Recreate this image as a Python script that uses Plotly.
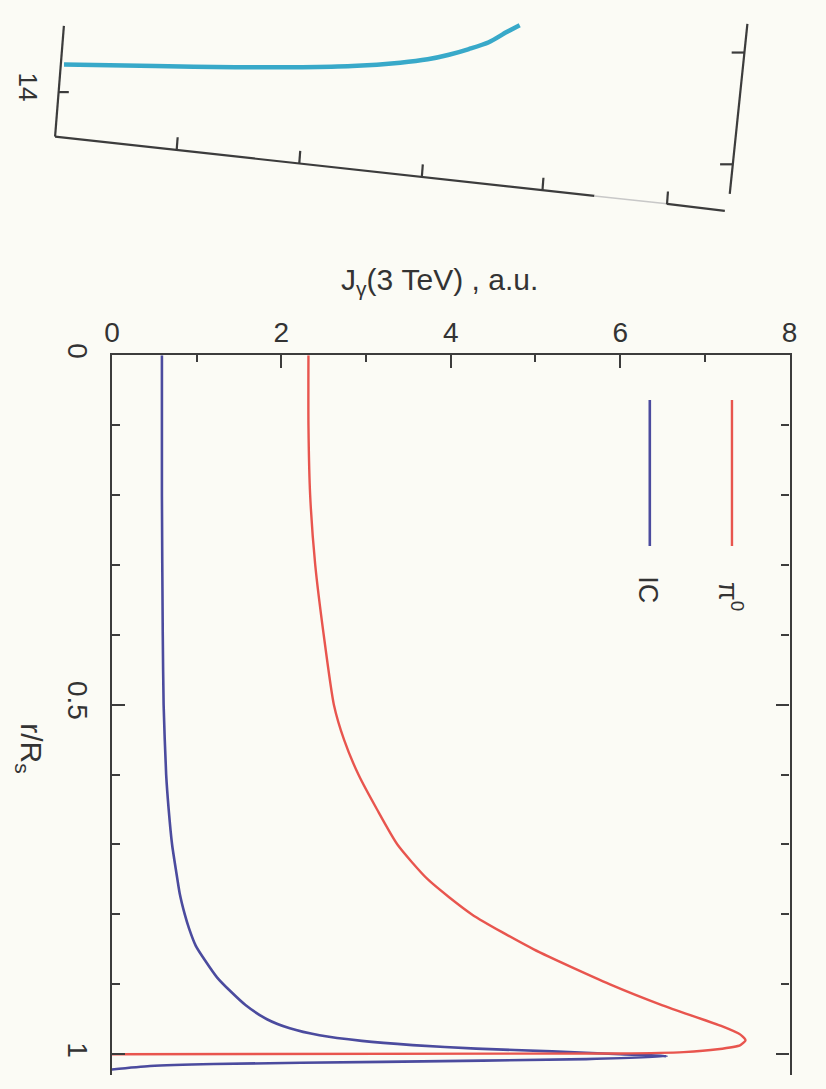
import plotly.graph_objects as go

W, H = 826, 1089

# ---- data ----
r_ic = [0.0, 0.2, 0.4, 0.5, 0.6, 0.65, 0.7, 0.74, 0.77, 0.8, 0.82, 0.845, 0.866, 0.89,
        0.91, 0.93, 0.95, 0.963, 0.973, 0.981, 0.987, 0.992, 0.996, 1.0, 1.003, 1.007,
        1.011, 1.014, 1.017, 1.022]
J_ic = [0.59, 0.59, 0.60, 0.61, 0.64, 0.67, 0.71, 0.76, 0.80, 0.86, 0.91, 0.99, 1.10, 1.24,
        1.40, 1.58, 1.83, 2.10, 2.45, 2.95, 3.55, 4.3, 5.2, 6.0, 6.55, 5.6,
        3.2, 1.2, 0.45, 0.0]

r_pi = [0.0, 0.1, 0.2, 0.3, 0.4, 0.5, 0.55, 0.6, 0.65, 0.7, 0.75, 0.8, 0.85, 0.9,
        0.93, 0.96, 0.972, 0.98, 0.987, 0.993, 0.997, 0.999, 1.0]
J_pi = [2.32, 2.32, 2.34, 2.40, 2.50, 2.62, 2.74, 2.91, 3.13, 3.37, 3.73, 4.25, 4.98,
        5.88, 6.50, 7.20, 7.42, 7.48, 7.42, 7.15, 6.75, 6.0, 0.0]

# fragment of the upper (cropped) panel
frag_x = [0.0, 0.133, 0.25, 0.347, 0.42, 0.49, 0.53, 0.561, 0.59, 0.619, 0.645, 0.664]
frag_y = [14.235, 14.22, 14.21, 14.21, 14.22, 14.25, 14.28, 14.32, 14.37, 14.43, 14.52, 14.58]

x_ticks = [0, 2, 4, 6, 8]
y_tickvals = [0, 0.5, 1]
y_ticktext = ["0", "0.5", "1"]
colors = ["#4b4b9e", "#e8554e"]

BG = "#fbfbf5"
AX = "#3c3c3c"
FONT = "Liberation Sans, Arial, sans-serif"


def px(x):
    return x / W


def py(y):
    return 1 - y / H


fig = go.Figure()
fig.add_trace(go.Scatter(x=J_ic, y=r_ic, mode="lines",
                         line=dict(color=colors[0], width=2.6, shape="spline", smoothing=0.6),
                         name="IC", showlegend=False))
fig.add_trace(go.Scatter(x=J_pi, y=r_pi, mode="lines",
                         line=dict(color=colors[1], width=2.4, shape="spline", smoothing=0.6),
                         name="pi0", showlegend=False))
fig.add_trace(go.Scatter(x=frag_x, y=frag_y, mode="lines", xaxis="x2", yaxis="y2",
                         line=dict(color="#38a9c9", width=4.5, shape="spline", smoothing=0.8),
                         showlegend=False))

fig.update_layout(
    width=W, height=H, margin=dict(l=0, r=0, t=0, b=0),
    paper_bgcolor=BG, plot_bgcolor=BG,
    font=dict(family=FONT, color="#333", size=28),
    xaxis=dict(domain=[px(106), px(797)], range=[0, 8], side="top",
               tickvals=x_ticks, ticks="inside", ticklen=13, tickwidth=2, tickcolor=AX,
               minor=dict(dtick=1, tick0=0, ticks="inside", ticklen=7, tickwidth=2, tickcolor=AX),
               showline=True, linecolor=AX, linewidth=2.2, showgrid=False, zeroline=False,
               anchor="y", tickfont=dict(family=FONT, size=28, color="#333")),
    yaxis=dict(domain=[py(1075), py(347)], range=[1.03, 0],
               tickvals=y_tickvals, ticktext=y_ticktext, tickangle=90,
               ticks="inside", ticklen=13, tickwidth=2, tickcolor=AX,
               minor=dict(dtick=0.1, tick0=0, ticks="inside", ticklen=8, tickwidth=2, tickcolor=AX),
               showline=True, mirror="ticks", linecolor=AX, linewidth=2.2,
               showgrid=False, zeroline=False, anchor="x", ticklabelstandoff=8,
               tickfont=dict(family=FONT, size=28, color="#333")),
    xaxis2=dict(domain=[px(57), px(757)], range=[0, 1], visible=False, anchor="y2"),
    yaxis2=dict(domain=[py(126), py(11)], range=[13.6, 14.6], visible=False, anchor="x2"),
)

ann = [
    dict(text="J<sub>γ</sub>(3 TeV) , a.u.", x=px(440), y=py(272), xref="paper", yref="paper",
         xanchor="center", yanchor="middle",
         showarrow=False, font=dict(family=FONT, size=30, color="#333")),
    dict(text="r/R<sub>s</sub>", x=px(22), y=py(745), xref="paper", yref="paper",
         xanchor="center", yanchor="middle",
         showarrow=False, textangle=90, font=dict(family=FONT, size=30, color="#333")),
    dict(text="IC", x=6.33, y=0.335, xref="x", yref="y", showarrow=False, textangle=90,
         xanchor="center", yanchor="middle", font=dict(family=FONT, size=27, color="#333")),
    dict(text="π<sup>0</sup>", x=7.3, y=0.345, xref="x", yref="y", showarrow=False, textangle=90,
         xanchor="center", yanchor="middle", font=dict(family=FONT, size=27, color="#333")),
    dict(text="14", x=px(20), y=py(76), xref="paper", yref="paper", showarrow=False,
         xanchor="center", yanchor="middle",
         textangle=90, font=dict(family=FONT, size=26, color="#333")),
]
fig.update_layout(annotations=ann)

shapes = [
    # legend sample lines
    dict(type="line", xref="x", yref="y", x0=6.35, x1=6.35, y0=0.064, y1=0.273,
         line=dict(color=colors[0], width=2.6)),
    dict(type="line", xref="x", yref="y", x0=7.32, x1=7.32, y0=0.064, y1=0.273,
         line=dict(color=colors[1], width=2.4)),
]


# frame of the cropped upper panel (tilted scan)
def seg(x0, y0, x1, y1, color=AX, w=2.2):
    return dict(type="line", xref="paper", yref="paper", x0=px(x0), y0=py(y0), x1=px(x1), y1=py(y1),
                line=dict(color=color, width=w))


shapes += [
    seg(57, 14, 48, 126),
    seg(48, 126, 598, 186),
    seg(598, 186, 672, 194, color="#c8c8c8", w=1.5),
    seg(672, 194, 731, 201),
    seg(754, 12, 736, 184),
    seg(51, 81, 62, 81),
]
for tx in [172, 297, 422, 545, 672]:
    ty = 126 + (tx - 48) * (75 / 683)
    shapes.append(seg(tx, ty, tx + 1, ty - 13))
for ty in [41, 154]:
    tx = 754 - (ty - 12) * (18 / 172)
    shapes.append(seg(tx, ty, tx - 13, ty))

fig.update_layout(shapes=shapes)

fig.write_html("out.html")
